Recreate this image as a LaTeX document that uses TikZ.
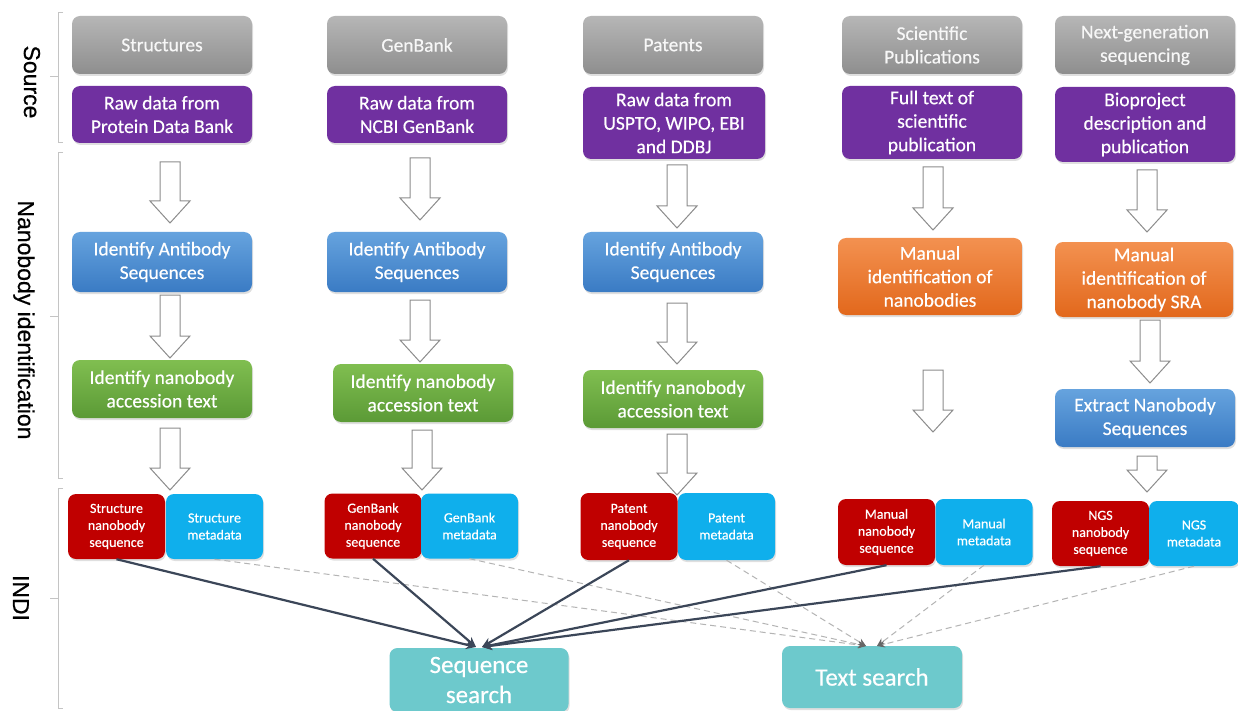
\documentclass[tikz,border=0pt]{standalone}
\usepackage{fontspec}
\setmainfont{Carlito}[FakeBold=0.35,BoldFont=Carlito]
\newfontfamily\labelfont{Liberation Sans}[FakeBold=0.6]
\usetikzlibrary{arrows.meta,shadows}
\definecolor{greyT}{HTML}{B6B6B6}
\definecolor{greyB}{HTML}{8E8E8E}
\definecolor{purp}{HTML}{7030A0}
\definecolor{blueT}{HTML}{66A3DE}
\definecolor{blueB}{HTML}{3A7BC4}
\definecolor{greenT}{HTML}{80BE50}
\definecolor{greenB}{HTML}{5B9A36}
\definecolor{orangeT}{HTML}{F39150}
\definecolor{orangeB}{HTML}{E2681C}
\definecolor{redbox}{HTML}{C00000}
\definecolor{cyanbox}{HTML}{0FAFEC}
\definecolor{tealbox}{HTML}{6DC9CC}
\definecolor{solidln}{HTML}{3B4658}
\definecolor{dashln}{HTML}{B4B4B4}
\definecolor{brk}{HTML}{C4C4C4}
\tikzset{
  box/.style={rounded corners=8pt, align=center, text=white, inner sep=0pt,
    minimum width=180pt, minimum height=58pt,
    font=\fontsize{19.5}{23.5}\selectfont\bfseries,
    drop shadow={opacity=0.25, shadow xshift=1pt, shadow yshift=-2pt}},
  greybox/.style={box, top color=greyT, bottom color=greyB, text=white!97!black},
  purplebox/.style={box, fill=purp},
  bluebox/.style={box, top color=blueT, bottom color=blueB},
  greenbox/.style={box, top color=greenT, bottom color=greenB},
  orangebox/.style={box, top color=orangeT, bottom color=orangeB},
  small/.style={box, minimum width=97pt, minimum height=65pt,
    font=\fontsize{14}{17}\selectfont\bfseries},
  redsmall/.style={small, fill=redbox},
  cyansmall/.style={small, fill=cyanbox},
  searchbox/.style={box, fill=tealbox, minimum width=179pt, minimum height=63pt,
    font=\fontsize{25}{30}\selectfont\bfseries},
  hollow/.style={draw=black!45, fill=white, line width=1pt, line join=miter},
  solidarr/.style={draw=solidln, line width=2.2pt, -{Stealth[length=10pt,width=9pt]}},
  dasharr/.style={draw=dashln, line width=1pt, dash pattern=on 6pt off 4pt,
    -{Stealth[length=8pt,width=7pt,color=black!60,fill=black!60]}},
  bracket/.style={draw=brk, line width=1pt},
  sidelabel/.style={font=\labelfont\fontsize{23}{27}\selectfont, text=black, rotate=-90, anchor=base, inner sep=0pt}
}
\newcommand\hollowarr[3]{\draw[hollow] ({#1-10},#2) -- ({#1+10},#2) -- ({#1+10},{#3-22}) -- ({#1+20},{#3-22}) -- (#1,#3) -- ({#1-20},{#3-22}) -- ({#1-10},{#3-22}) -- cycle;}
\begin{document}
\begin{tikzpicture}[x=1pt,y=-1pt]
\useasboundingbox (0,0) rectangle (1238,711);
\fill[white] (0,0) rectangle (1238,711);

% brackets
\draw[bracket] (63,13) -- (58,13) -- (58,143) -- (63,143);
\draw[bracket] (58,77) -- (50,77);
\draw[bracket] (63,153) -- (58,153) -- (58,478) -- (63,478);
\draw[bracket] (58,316) -- (50,316);
\draw[bracket] (63,488) -- (58,488) -- (58,708) -- (63,708);
\draw[bracket] (58,598) -- (50,598);

% side labels
\node[sidelabel] (lsrc) at (24,82) {Source};
\node[sidelabel] (lnid) at (18,320) {Nanobody identification};
\node[sidelabel] (lindi) at (13,598) {INDI};

% column 1
\node[greybox] (src1) at (162,45) {Structures};
\node[purplebox, minimum height=57pt] (raw1) at (162,114.5) {Raw data from\\Protein Data Bank};
\node[bluebox, minimum height=60pt] (ab1) at (162,262) {Identify Antibody\\Sequences};
\node[greenbox] (nb1) at (162,389) {Identify nanobody\\accession text};
\node[redsmall] (seq1) at (116.5,526.5) {Structure\\nanobody\\sequence};
\node[cyansmall] (meta1) at (214.5,526.5) {Structure\\metadata};

% column 2
\node[greybox] (src2) at (417,45) {GenBank};
\node[purplebox, minimum height=57pt] (raw2) at (417,114.5) {Raw data from\\NCBI GenBank};
\node[bluebox, minimum height=60pt] (ab2) at (417,262) {Identify Antibody\\Sequences};
\node[greenbox] (nb2) at (423,393) {Identify nanobody\\accession text};
\node[redsmall] (seq2) at (373,526) {GenBank\\nanobody\\sequence};
\node[cyansmall] (meta2) at (469.5,526) {GenBank\\metadata};

% column 3
\node[greybox] (src3) at (673,45) {Patents};
\node[purplebox, minimum width=182pt, minimum height=72pt] (raw3) at (674,123) {Raw data from\\USPTO, WIPO, EBI\\and DDBJ};
\node[bluebox, minimum height=60pt] (ab3) at (673,262) {Identify Antibody\\Sequences};
\node[greenbox] (nb3) at (673,399) {Identify nanobody\\accession text};
\node[redsmall, minimum height=67pt] (seq3) at (629,526.5) {Patent\\nanobody\\sequence};
\node[cyansmall, minimum height=67pt] (meta3) at (726.5,526.5) {Patent\\metadata};

% column 4
\node[greybox] (src4) at (932,45) {Scientific\\Publications};
\node[purplebox, minimum height=73pt] (raw4) at (932,122.5) {Full text of\\scientific\\publication};
\node[orangebox, minimum width=184pt, minimum height=77pt] (man4) at (930,276.5) {Manual\\identification of\\nanobodies};
\node[redsmall, minimum height=66pt] (seq4) at (886.5,532) {Manual\\nanobody\\sequence};
\node[cyansmall, minimum height=66pt] (meta4) at (984,532) {Manual\\metadata};

% column 5
\node[greybox] (src5) at (1145,45) {Next-generation\\sequencing};
\node[purplebox, minimum height=75pt] (raw5) at (1145,124.5) {Bioproject\\description and\\publication};
\node[orangebox, minimum width=178pt, minimum height=75pt] (man5) at (1144,279.5) {Manual\\identification of\\nanobody SRA};
\node[bluebox] (ext5) at (1145,418) {Extract Nanobody\\Sequences};
\node[redsmall] (seq5) at (1100.5,533.5) {NGS\\nanobody\\sequence};
\node[cyansmall, minimum width=90pt] (meta5) at (1194,533.5) {NGS\\metadata};

% search boxes
\node[searchbox, minimum height=64pt] (seqs) at (479,680) {Sequence\\search};
\node[searchbox, minimum width=180pt, minimum height=62pt] (txts) at (872,677) {Text search};

% hollow arrows
\hollowarr{170}{162}{223}
\hollowarr{170}{295}{358}
\hollowarr{170}{428}{490}
\hollowarr{420}{158}{220}
\hollowarr{420}{300}{362}
\hollowarr{422}{430}{490}
\hollowarr{677}{165}{228}
\hollowarr{677}{303}{364}
\hollowarr{677}{434}{495}
\hollowarr{933}{167}{230}
\hollowarr{933}{370}{432}
\hollowarr{1147}{170}{232}
\hollowarr{1150}{320}{383}
\hollowarr{1147}{456}{492}

% targets
\coordinate (sqL) at (476,647);
\coordinate (sqR) at (482,647);
\coordinate (txL) at (866,646);
\coordinate (txR) at (877,646);

% dashed connectors (metadata -> text search)
\draw[dasharr] (meta1.south) -- (txL);
\draw[dasharr] (meta2.south) -- (txL);
\draw[dasharr] (meta3.south) -- (txL);
\draw[dasharr] (meta4.south) -- (txR);
\draw[dasharr] (meta5.south) -- (txR);

% solid connectors (sequence -> sequence search)
\draw[solidarr] (seq1.south) -- (sqL);
\draw[solidarr] (seq2.south) -- (sqL);
\draw[solidarr] (seq3.south) -- (sqR);
\draw[solidarr] (seq4.south) -- (sqR);
\draw[solidarr] (seq5.south) -- (sqR);
\end{tikzpicture}
\end{document}
